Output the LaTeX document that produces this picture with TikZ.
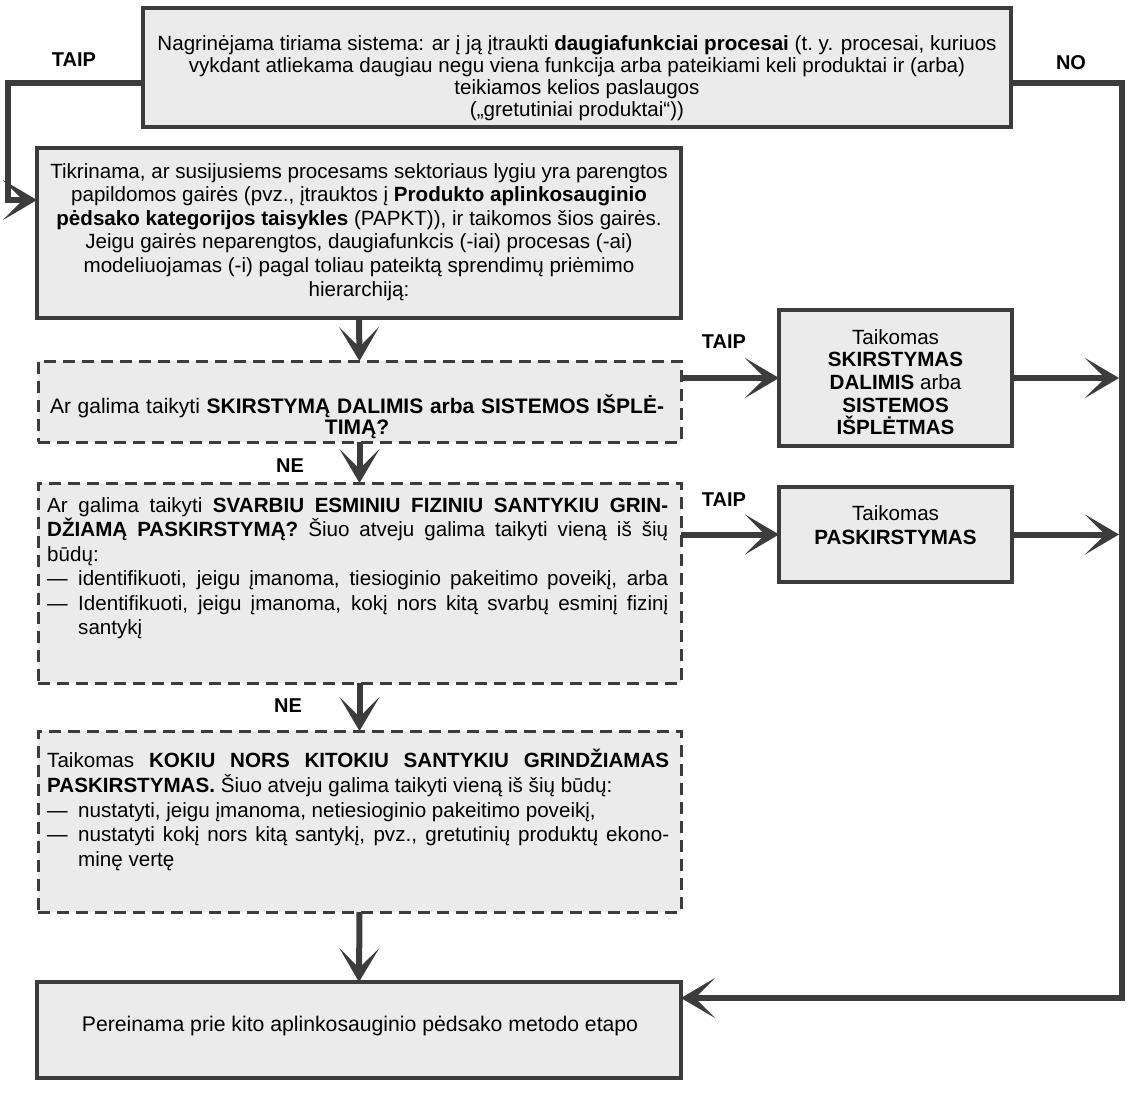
\documentclass[tikz,border=0pt]{standalone}
\usepackage{fontspec}
\setmainfont{Liberation Sans}
\usetikzlibrary{arrows.meta}
\definecolor{ln}{HTML}{3C3C3C}
\definecolor{bx}{HTML}{EBEBEB}
\newcommand{\jline}[2]{\makebox[#1][s]{#2}}
\begin{document}
\begin{tikzpicture}[x=1pt,y=-1pt,
  font=\fontsize{20.6}{23.6}\selectfont,
  box/.style={draw=ln, line width=4pt, fill=bx, inner sep=0pt, outer sep=0pt},
  dbox/.style={draw=ln, line width=3pt, fill=bx, dash pattern=on 12pt off 7pt, inner sep=0pt, outer sep=0pt},
  txt/.style={inner sep=0pt, align=center},
  ltxt/.style={inner sep=0pt, align=left, anchor=north west},
  conn/.style={draw=ln, line width=6pt},
  arr/.style={conn, -{Stealth[length=34pt,width=40pt,inset=20pt]}},
  lbl/.style={font=\fontsize{20}{24}\selectfont\bfseries, inner sep=0pt}]
\useasboundingbox (0,0) rectangle (1135,1094);

% boxes
\node[box, minimum width=868pt, minimum height=119pt] (top) at (577,67.5) {};
\node[box, minimum width=644pt, minimum height=170pt] (check) at (359,233) {};
\node[dbox, minimum width=643pt, minimum height=81pt] (d1) at (359.5,401.5) {};
\node[box, minimum width=233pt, minimum height=136pt] (a1) at (895.5,378) {};
\node[dbox, minimum width=643pt, minimum height=200pt] (d2) at (359.5,583) {};
\node[box, minimum width=233pt, minimum height=95pt] (a2) at (895.5,534.5) {};
\node[dbox, minimum width=643pt, minimum height=181pt] (d3) at (359.5,821.5) {};
\node[box, minimum width=644pt, minimum height=96pt] (fin) at (359,1030) {};

% texts
\node[txt, anchor=north, font=\fontsize{20.6}{22}\selectfont] (toptxt) at (577,35.5)
 {Nagrinėjama tiriama sistema: ar į ją įtraukti \textbf{daugiafunkciai procesai} (t.~y. procesai, kuriuos\\
  vykdant atliekama daugiau negu viena funkcija arba pateikiami keli produktai ir (arba)\\
  teikiamos kelios paslaugos\\
  („gretutiniai produktai“))};
\node[txt, anchor=north] (checktxt) at (359,163)
 {Tikrinama, ar susijusiems procesams sektoriaus lygiu yra parengtos\\
  papildomos gairės (pvz., įtrauktos į \textbf{Produkto aplinkosauginio}\\
  \textbf{pėdsako kategorijos taisykles} (PAPKT)), ir taikomos šios gairės.\\
  Jeigu gairės neparengtos, daugiafunkcis (-iai) procesas (-ai)\\
  modeliuojamas (-i) pagal toliau pateiktą sprendimų priėmimo\\
  hierarchiją:};
\node[txt, anchor=north, font=\fontsize{21}{21}\selectfont] (d1txt) at (357,394.5)
 {\jline{614pt}{Ar galima taikyti \textbf{SKIRSTYMĄ DALIMIS arba SISTEMOS IŠPLĖ-}}\\
  \textbf{TIMĄ?}};
\node[txt, anchor=north, font=\fontsize{20.6}{22.7}\selectfont] (a1txt) at (895.5,329)
 {Taikomas\\ \textbf{SKIRSTYMAS}\\ \textbf{DALIMIS} arba\\ \textbf{SISTEMOS}\\ \textbf{IŠPLĖTMAS}};
\node[txt, anchor=north, font=\fontsize{20.6}{24}\selectfont] (a2txt) at (895.5,505)
 {Taikomas\\ \textbf{PASKIRSTYMAS}};
\node[ltxt, font=\fontsize{20.6}{24.5}\selectfont] (d2txt) at (47,497)
 {\jline{621pt}{Ar galima taikyti \textbf{SVARBIU ESMINIU FIZINIU SANTYKIU GRIN-}}\\
  \jline{621pt}{\textbf{DŽIAMĄ PASKIRSTYMĄ?} Šiuo atveju galima taikyti vieną iš šių}\\
  būdų:\\
  \makebox[31pt][l]{—}\jline{590pt}{identifikuoti, jeigu įmanoma, tiesioginio pakeitimo poveikį, arba}\\
  \makebox[31pt][l]{—}\jline{590pt}{Identifikuoti, jeigu įmanoma, kokį nors kitą svarbų esminį fizinį}\\
  \hspace*{31pt}santykį};
\node[ltxt, font=\fontsize{20.6}{24.7}\selectfont] (d3txt) at (47,749)
 {\jline{622pt}{Taikomas \textbf{KOKIU NORS KITOKIU SANTYKIU GRINDŽIAMAS}}\\
  \textbf{PASKIRSTYMAS.} Šiuo atveju galima taikyti vieną iš šių būdų:\\
  \makebox[31pt][l]{—}nustatyti, jeigu įmanoma, netiesioginio pakeitimo poveikį,\\
  \makebox[31pt][l]{—}\jline{591pt}{nustatyti kokį nors kitą santykį, pvz., gretutinių produktų ekono-}\\
  \hspace*{31pt}minę vertę};
\node[txt, anchor=base, font=\fontsize{21.2}{24}\selectfont] (fintxt) at (360,1031) {Pereinama prie kito aplinkosauginio pėdsako metodo etapo};

% labels
\node[lbl] (taip0) at (74,60) {TAIP};
\node[lbl] (no0) at (1071,63) {NO};
\node[lbl] (taip1) at (724,342) {TAIP};
\node[lbl] (taip2) at (724,500) {TAIP};
\node[lbl] (ne1) at (290,466) {NE};
\node[lbl] (ne2) at (288,706) {NE};

% connectors
\coordinate (L1) at (7.5,83);
\coordinate (L2) at (7.5,200);
\coordinate (R1) at (1122,83);
\coordinate (R2) at (1122,998);
\draw[arr] (top.west|-L1) -- (L1) -- (L2) -- (check.west|-L2);
\draw[arr] (top.east|-R1) -- (R1) -- (R2) -- (fin.east|-R2);
\draw[arr] (check.south) -- (d1.north);
\draw[arr] (d1.east|-a1.west) -- (a1.west);
\draw[arr] (a1.east) -- ([xshift=-3pt]a1.east-|R1);
\draw[arr] (d1.south) -- (d2.north);
\draw[arr] (d2.east|-a2.west) -- (a2.west);
\draw[arr] (a2.east) -- ([xshift=-3pt]a2.east-|R1);
\draw[arr] (d2.south) -- (d3.north);
\draw[arr] (d3.south) -- (fin.north);
\end{tikzpicture}
\end{document}
